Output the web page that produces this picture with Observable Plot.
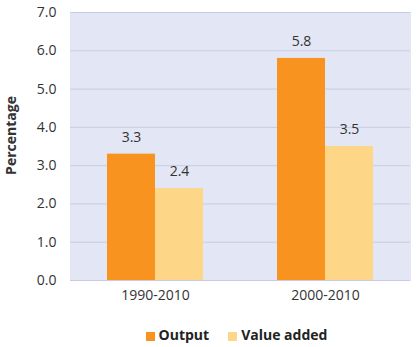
<!DOCTYPE html>
<html><head><meta charset="utf-8">
<script src="https://cdn.jsdelivr.net/npm/d3@7"></script>
<script src="https://cdn.jsdelivr.net/npm/@observablehq/plot@0.6"></script>
<style>
body{margin:0;background:#fff;font-family:"Open Sans",sans-serif;}
#chart svg [aria-label="y-axis label"] text{font-weight:bold;}
.legend{display:flex;justify-content:center;gap:19px;margin-top:13px;font:bold 14px "Open Sans",sans-serif;color:#222;line-height:20px;padding-left:56px;}
.legend span.sw{display:inline-block;width:9px;height:9px;margin-right:4px;vertical-align:-1px;}
</style>
</head><body><div id="chart"></div>
<script>
const periods = ["1990-2010", "2000-2010"];
const series = ["Output", "Value added"];
const output = [3.3, 5.8];
const valueAdded = [2.4, 3.5];
const yTicks = [0, 1, 2, 3, 4, 5, 6, 7];
const colors = ["#F7931E", "#FDD787"];

const data = periods.flatMap((p, i) => [
  {period: p, series: series[0], value: output[i]},
  {period: p, series: series[1], value: valueAdded[i]}
]);

const bg = "#E3E6F4";
const plot = Plot.plot({
  width: 417, height: 312,
  marginLeft: 69, marginRight: 7, marginTop: 12, marginBottom: 32,
  style: {fontFamily: "'Open Sans', sans-serif", fontSize: "14px", color: "#333", background: "#fff"},
  fx: {domain: periods, padding: 0, label: null, axis: "bottom", tickSize: 0, tickPadding: 10},
  x: {domain: series, axis: null, paddingInner: 0, paddingOuter: 0.74},
  y: {domain: [0, 7], ticks: yTicks, tickFormat: d => d.toFixed(1), tickSize: 0, tickPadding: 14,
      label: "Percentage", labelAnchor: "center", labelArrow: "none", labelOffset: 64},
  color: {domain: series, range: colors},
  marks: [
    Plot.frame({fill: bg, stroke: bg}),
    Plot.ruleY(yTicks, {stroke: "#C8CCE2"}),
    Plot.barY(data, {fx: "period", x: "series", y: "value", fill: "series"}),
    Plot.text(data, {fx: "period", x: "series", y: "value", text: d => d.value.toFixed(1), dy: -17, fontSize: 14, fill: "#333"})
  ]
});
// nudge the y-axis title up to the chart's visual centre, as in the reference
const lab = d3.select(plot).select('[aria-label="y-axis label"]');
if (!lab.empty()) lab.attr("transform", (lab.attr("transform") || "") + " translate(0,-11)");
document.getElementById("chart").append(plot);

const legend = document.createElement("div");
legend.className = "legend";
series.forEach((s, i) => {
  const item = document.createElement("div");
  const sw = document.createElement("span");
  sw.className = "sw";
  sw.style.background = colors[i];
  item.append(sw, document.createTextNode(s));
  legend.append(item);
});
document.getElementById("chart").append(legend);
</script>
</body></html>
